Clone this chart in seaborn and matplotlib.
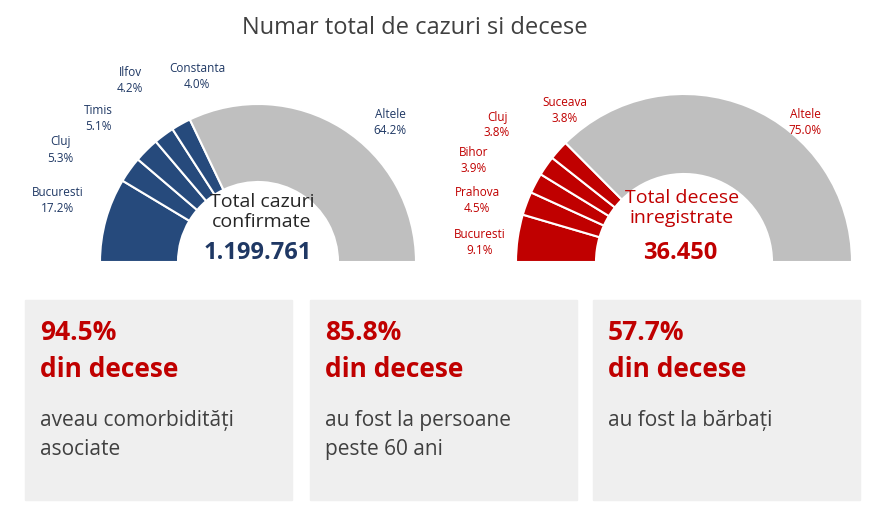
import matplotlib
matplotlib.use("Agg")
import matplotlib.pyplot as plt
import seaborn as sns
from matplotlib.patches import Rectangle

sns.set_theme(style="white")
plt.rcParams['font.family'] = ['Open Sans', 'DejaVu Sans']

# data
cases_labels = ["Bucuresti", "Cluj", "Timis", "Ilfov", "Constanta", "Altele"]
cases_pct = [17.2, 5.3, 5.1, 4.2, 4.0, 64.2]
deaths_labels = ["Bucuresti", "Prahova", "Bihor", "Cluj", "Suceava", "Altele"]
deaths_pct = [9.1, 4.5, 3.9, 3.8, 3.8, 75.0]
total_cases = "1.199.761"
total_deaths = "36.450"
box_pcts = ["94.5%", "85.8%", "57.7%"]
box_texts = ["aveau comorbidități\nasociate", "au fost la persoane\npeste 60 ani", "au fost la bărbați"]

W, H = 889, 524
fig = plt.figure(figsize=(W / 100, H / 100), dpi=100)
ax = fig.add_axes([0, 0, 1, 1])

NAVY = "#264a7c"
RED = "#c00000"
GREY = "#bfbfbf"


def half_donut(values, color, center, radius, width):
    cols = [color] * (len(values) - 1) + [GREY, "none"]
    wedges, _ = ax.pie(values + [sum(values)], colors=cols, startangle=180,
                       counterclock=False, radius=radius, center=center,
                       wedgeprops=dict(width=width, edgecolor="white", linewidth=1.5))
    wedges[-1].set_visible(False)


half_donut(cases_pct, NAVY, (258, H - 262), 158, 78)
half_donut(deaths_pct, RED, (684, H - 262), 168, 80)

ax.set_xlim(0, W)
ax.set_ylim(0, H)
ax.set_aspect("auto")
ax.axis("off")


def t(x, y, s, **kw):
    ax.text(x, H - y, s, ha="center", va="center", **kw)


t(415, 28, "Numar total de cazuri si decese", fontsize=17, color="#404040")

cases_pos = [(58, 200), (60, 150), (98, 118), (130, 80), (197, 76), (390, 122)]
for (x, y), lab, p in zip(cases_pos, cases_labels, cases_pct):
    t(x, y, f"{lab}\n{p}%", fontsize=8.5, color="#1f3864", linespacing=1.3)
t(262, 212, "Total cazuri\nconfirmate", fontsize=14, color="#262626", linespacing=1.2)
t(258, 253, total_cases, fontsize=17, fontweight="bold", color="#1f3864")

deaths_pos = [(480, 243), (477, 200), (474, 160), (497, 125), (565, 110), (805, 122)]
for (x, y), lab, p in zip(deaths_pos, deaths_labels, deaths_pct):
    t(x, y, f"{lab}\n{p}%", fontsize=8.5, color=RED, linespacing=1.3)
t(682, 208, "Total decese\ninregistrate", fontsize=14, color=RED, linespacing=1.2)
t(680, 253, total_deaths, fontsize=17, fontweight="bold", color=RED)

box_x = [25, 310, 593]
for x, p, s in zip(box_x, box_pcts, box_texts):
    ax.add_patch(Rectangle((x, H - 500), 267, 200, color="#efefef", zorder=0))
    ax.text(x + 15, H - 351, f"{p}\ndin decese", fontsize=19, fontweight="bold",
            color=RED, va="center", ha="left", linespacing=1.5)
    ax.text(x + 15, H - 410, s, fontsize=15, color="#404040", va="top", ha="left",
            linespacing=1.5)

fig.savefig("out.png", dpi=100)
